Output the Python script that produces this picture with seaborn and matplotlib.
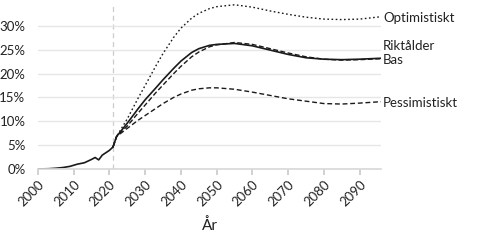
import numpy as np
import pandas as pd
import matplotlib
matplotlib.use("Agg")
import matplotlib.pyplot as plt
import seaborn as sns
from matplotlib.ticker import PercentFormatter

sns.set_theme(style="white")
plt.rcParams['font.family'] = ['Lato', 'DejaVu Sans']

hist_years = [2000, 2003, 2005, 2007, 2009, 2011, 2013, 2015, 2016, 2017, 2018, 2019, 2020, 2021]
hist_vals = [0.0, 0.05, 0.15, 0.3, 0.55, 1.0, 1.3, 2.0, 2.4, 1.9, 2.9, 3.4, 3.9, 4.6]

proj_years = [2021, 2022, 2025, 2028, 2030, 2033, 2035, 2038, 2040, 2043, 2045, 2048, 2050,
              2055, 2060, 2065, 2070, 2075, 2080, 2085, 2090, 2096]
bas = [4.6, 6.8, 9.6, 12.6, 14.5, 17.0, 18.7, 21.1, 22.6, 24.4, 25.2, 25.9, 26.1,
       26.3, 25.8, 24.9, 24.0, 23.3, 23.0, 22.9, 23.0, 23.2]
riktalder = [4.6, 6.8, 9.0, 11.7, 13.4, 16.0, 17.6, 20.0, 21.5, 23.5, 24.5, 25.6, 26.0,
             26.5, 26.1, 25.2, 24.3, 23.5, 23.0, 22.8, 22.9, 23.1]
optimistiskt = [4.6, 6.8, 10.5, 14.8, 17.5, 21.6, 24.2, 27.6, 29.5, 31.6, 32.6, 33.6, 34.0,
                34.4, 33.9, 33.1, 32.4, 31.8, 31.4, 31.3, 31.4, 31.9]
pessimistiskt = [4.6, 6.8, 8.5, 10.2, 11.2, 12.7, 13.7, 15.0, 15.7, 16.5, 16.8, 17.0, 17.0,
                 16.7, 16.1, 15.4, 14.7, 14.2, 13.7, 13.6, 13.8, 14.1]

series = {"Bas": bas, "Riktålder": riktalder,
          "Optimistiskt": optimistiskt, "Pessimistiskt": pessimistiskt}

rows = [{"År": y, "v": v, "serie": "Historik"} for y, v in zip(hist_years, hist_vals)]
for name, vals in series.items():
    rows += [{"År": y, "v": v, "serie": name} for y, v in zip(proj_years, vals)]
df = pd.DataFrame(rows)

fig = plt.figure(figsize=(4.8, 2.4), dpi=100)
ax = fig.add_axes([0.079, 0.296, 0.715, 0.696])

ink = "#1a1a1a"
styles = {
    "Historik": dict(dashes=None, lw=1.2),
    "Bas": dict(dashes=None, lw=1.2),
    "Riktålder": dict(dashes=(3.5, 1.8), lw=1.0),
    "Optimistiskt": dict(dashes=(1.2, 1.8), lw=1.0),
    "Pessimistiskt": dict(dashes=(3.5, 2.0), lw=1.0),
}
for name, st in styles.items():
    sub = df[df["serie"] == name]
    kw = dict(color=ink, lw=st["lw"])
    if st["dashes"] is not None:
        kw["dashes"] = st["dashes"]
    sns.lineplot(data=sub, x="År", y="v", ax=ax, estimator=None, sort=True, **kw)

ax.axvline(2021, ymax=0.975, color="#cccccc", lw=0.9, ls=(0, (4, 3)), zorder=0)

ax.set_xlim(2000, 2096)
ax.set_ylim(0, 35)
ax.set_yticks(np.arange(0, 31, 5))
ax.yaxis.set_major_formatter(PercentFormatter(decimals=0))
ax.set_xticks(np.arange(2000, 2091, 10))
ax.grid(axis="y", color="#e6e6e6", lw=1)
ax.grid(axis="x", visible=False)
for s in ["top", "right", "left"]:
    ax.spines[s].set_visible(False)
ax.spines["bottom"].set_color("#d9d9d9")
ax.tick_params(axis="x", bottom=True, length=4, color="#cccccc", labelsize=9.5,
               labelcolor="#222222", pad=3)
ax.tick_params(axis="y", left=False, labelsize=9.5, labelcolor="#222222", pad=3)
for lbl in ax.get_xticklabels():
    lbl.set_rotation(45)
    lbl.set_ha("right")
    lbl.set_rotation_mode("anchor")
ax.set_xlabel("År", fontsize=11, color="#222222", labelpad=7)
ax.set_ylabel("")

labels = {"Optimistiskt": -0.8, "Riktålder": 9.0, "Bas": -1.0, "Pessimistiskt": -1.0}
for name, dy in labels.items():
    ax.annotate(name, xy=(proj_years[-1], series[name][-1]), xytext=(1.5, dy),
                textcoords="offset points", ha="left", va="center",
                fontsize=9.5, color="#222222", annotation_clip=False)

fig.savefig("out.png", dpi=100)
